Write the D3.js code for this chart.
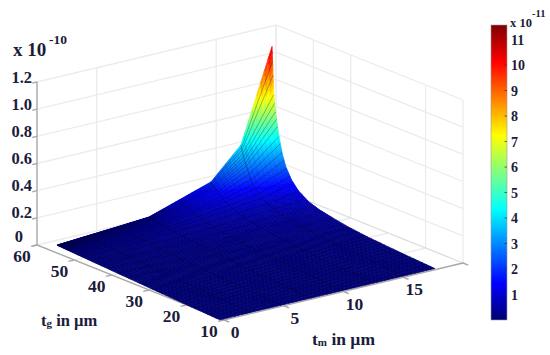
<!DOCTYPE html>
<html>
<head>
<meta charset="utf-8">
<script src="https://cdn.jsdelivr.net/npm/d3@7"></script>
<style>
html, body { margin: 0; padding: 0; background: #fff; }
text { font-family: "Liberation Serif", serif; font-weight: bold; fill: #1b1b3a; }
</style>
</head>
<body>
<svg id="chart" width="550" height="355"></svg>
<script>
// axis ticks
var tmTicks = [0, 5, 10, 15];
var tgTicks = [10, 20, 30, 40, 50, 60];
var zTicks = [0, 0.2, 0.4, 0.6, 0.8, 1.0, 1.2];
var zTickLabels = ["0", "0.2", "0.4", "0.6", "0.8", "1.0", "1.2"];
var colorTicks = [1, 2, 3, 4, 5, 6, 7, 8, 9, 10, 11];

// surface mesh, z in units of 1e-10
var tmGrid = [0, 2.57, 5.14, 7.7, 10.3, 12.9, 15.4, 18];
var tgGrid = [57.7, 57.2, 56.7, 55.7, 54.7, 53.7, 52, 50, 47, 44, 40, 36, 30, 20, 10.5];
var zGrid = [
  [.005, .020, .034, .050, .125, .200, .420, 1.09],
  [.005, .018, .032, .048, .110, .180, .360, .740],
  [.005, .017, .030, .046, .100, .170, .320, .620],
  [.004, .016, .028, .043, .090, .150, .260, .450],
  [.004, .015, .026, .040, .078, .125, .190, .330],
  [.004, .014, .024, .037, .068, .105, .150, .250],
  [.003, .012, .021, .032, .055, .082, .108, .170],
  [.003, .011, .018, .028, .042, .060, .076, .115],
  [.002, .008, .014, .020, .030, .042, .050, .068],
  [.002, .006, .010, .015, .022, .030, .036, .046],
  [.001, .004, .007, .010, .014, .019, .023, .030],
  [.001, .002, .004, .006, .009, .012, .014, .017],
  [0, .001, .002, .003, .004, .005, .006, .007],
  [0, 0, .001, .001, .001, .002, .002, .002],
  [0, 0, 0, 0, 0, 0, 0, 0]
];
// tg levels where the dense mesh lines are drawn
var tgMesh = [13, 16, 19, 22, 25, 28, 31, 34, 37, 40, 43, 45.5, 48, 50, 51.5, 52.5, 53.5, 54.2, 54.8, 55.3, 55.7, 56.1, 56.4, 56.7, 56.95, 57.2, 57.4, 57.55];

// grid lines that show on the back walls
var wallTm = [5, 15, 20];
var wallTg = [10, 20, 40, 50, 60];
var floorTg = [20, 30, 40, 50];

var jetColors = ["#000070", "#0000ff", "#00ffff", "#ffff00", "#ff0000", "#7f0000"];
var jetStops = [0, 0.125, 0.375, 0.625, 0.875, 1];
var colorMax = 11.57;

var svg = d3.select("#chart");

// projection of the 3d box, one scale per direction
var front = {x: 224, y: 320};
var tmX = d3.scaleLinear().domain([0, 20]).range([0, 239]);
var tmY = d3.scaleLinear().domain([0, 20]).range([0, -57]);
var tgX = d3.scaleLinear().domain([10, 60]).range([0, -187]);
var tgY = d3.scaleLinear().domain([10, 60]).range([0, -75]);
var zY = d3.scaleLinear().domain([0, 1.2]).range([0, -163]);
// the surface sits slightly sheared against the box
var shear = d3.scaleLinear().domain([10.5, 57.7]).range([-0.2, 0.95]);

function project(tm, tg, z) {
  return [front.x + tmX(tm) + tgX(tg), front.y + tmY(tm) + tgY(tg) + zY(z)];
}
function surf(tm, tg, z) {
  return project(tm + shear(tg), tg, z);
}

var jet = d3.scaleLinear()
  .domain(jetStops.map(function(d) { return d * colorMax; }))
  .range(jetColors);

var line = d3.line();

// walls and floor
var walls = svg.append("g").attr("fill", "none").attr("stroke", "#ececec").attr("stroke-width", 1.3);
zTicks.forEach(function(z) {
  if (z > 0) {
    walls.append("path").attr("d", line([project(0, 60, z), project(20, 60, z), project(20, 10, z)]));
  }
});
wallTm.forEach(function(tm) {
  walls.append("path").attr("d", line([project(tm, 60, 0), project(tm, 60, 1.2)]));
});
wallTg.forEach(function(tg) {
  walls.append("path").attr("d", line([project(20, tg, 0), project(20, tg, 1.2)]));
});
floorTg.forEach(function(tg) {
  walls.append("path").attr("d", line([project(0, tg, 0), project(20, tg, 0)]));
});
walls.append("path").attr("d", line([project(0, 60, 0), project(20, 60, 0)]));
walls.append("path").attr("stroke", "#dcdcdc").attr("d", line([project(20, 60, 0), project(20, 10, 0)]));

// axis lines
var axes = svg.append("g").attr("fill", "none").attr("stroke", "#a8a8a8").attr("stroke-width", 1.4);
axes.append("path").attr("d", line([project(0, 60, 1.2), project(0, 60, 0), project(0, 10, 0), project(20, 10, 0)]));
tmTicks.concat([20]).forEach(function(tm) {
  var a = project(tm, 10, 0), b = project(tm, 8.6, 0);
  axes.append("path").attr("d", line([a, b]));
});
tgTicks.forEach(function(tg) {
  var a = project(0, tg, 0), b = project(-0.5, tg, 0);
  axes.append("path").attr("d", line([a, b]));
});
zTicks.forEach(function(z) {
  var a = project(0, 60, z), b = project(-0.4, 60, z);
  axes.append("path").attr("d", line([a, b]));
});

// surface, far cells first
var defs = svg.append("defs");
defs.append("filter").attr("id", "soft")
  .append("feGaussianBlur").attr("stdDeviation", 0.4);

var steps = 8;
var quads = [];
for (var r = 0; r < tgGrid.length - 1; r++) {
  for (var c = tmGrid.length - 2; c >= 0; c--) {
    for (var u = 0; u < steps; u++) {
      for (var w = steps - 1; w >= 0; w--) {
        quads.push(cell(r, c, u / steps, (u + 1) / steps, w / steps, (w + 1) / steps));
      }
    }
  }
}

function lerp(a, b, t) { return a + (b - a) * t; }

function zAt(r, c, u, w) {
  return lerp(lerp(zGrid[r][c], zGrid[r][c + 1], w), lerp(zGrid[r + 1][c], zGrid[r + 1][c + 1], w), u);
}

function cell(r, c, u0, u1, w0, w1) {
  var corners = [[u0, w0], [u0, w1], [u1, w1], [u1, w0]].map(function(p) {
    var tg = lerp(tgGrid[r], tgGrid[r + 1], p[0]);
    var tm = lerp(tmGrid[c], tmGrid[c + 1], p[1]);
    var z = zAt(r, c, p[0], p[1]);
    return {pt: surf(tm, tg, z), z: z};
  });
  return {pts: corners.map(function(d) { return d.pt; }), z: d3.mean(corners, function(d) { return d.z; })};
}

var surface = svg.append("g").attr("filter", "url(#soft)");
surface.selectAll("path.cell")
  .data(quads)
  .join("path")
  .attr("class", "cell")
  .attr("d", function(d) { return line(d.pts) + "Z"; })
  .attr("fill", function(d) { return jet(d.z * 10); })
  .attr("stroke", function(d) { return jet(d.z * 10); })
  .attr("stroke-width", 0.7);

// mesh lines, the dense ones fade out in the dark part
function rowIndex(tg) {
  for (var i = 0; i < tgGrid.length - 1; i++) {
    if (tg <= tgGrid[i] && tg >= tgGrid[i + 1]) return i;
  }
  return tgGrid.length - 2;
}
var meshFade = d3.scaleLinear().domain([35, 52]).range([0.1, 0.34]).clamp(true);
var mesh = surface.append("g").attr("fill", "none").attr("stroke", "#000").attr("stroke-width", 0.8);
tgMesh.forEach(function(tg) {
  var r = rowIndex(tg);
  var u = (tg - tgGrid[r]) / (tgGrid[r + 1] - tgGrid[r]);
  var pts = tmGrid.map(function(tm, c) {
    return surf(tm, tg, lerp(zGrid[r][c], zGrid[r + 1][c], u));
  });
  mesh.append("path").attr("d", line(pts)).attr("stroke-opacity", meshFade(tg));
});
tmGrid.slice(1, -1).forEach(function(tm, i) {
  var pts = tgGrid.map(function(tg, r) { return surf(tm, tg, zGrid[r][i + 1]); });
  mesh.append("path").attr("d", line(pts)).attr("stroke-opacity", 0.3);
});

// tick labels
function label(x, y, txt, size, anchor) {
  return svg.append("text").attr("x", x).attr("y", y)
    .attr("font-size", size).attr("text-anchor", anchor || "middle").text(txt);
}
zTicks.forEach(function(z, i) {
  var p = project(0, 60, z);
  label(z === 0 ? p[0] - 14 : p[0] - 5, p[1] - (z === 0 ? 3.5 : -0.5), zTickLabels[i], 16.5, "end");
});
tgTicks.forEach(function(tg) {
  var p = project(0, tg, 0);
  label(p[0] - 15, p[1] + 16.5, tg, 17.5);
});
tmTicks.forEach(function(tm) {
  var p = project(tm, 10, 0);
  label(p[0] + 11, p[1] + 18, tm, 17.5);
});

// axis titles
label(13, 56, "x 10", 19, "start");
label(49, 44, "-10", 13.5, "start");
var tgTitle = label(41, 326, "t", 16.5, "start");
tgTitle.append("tspan").attr("font-size", 11).attr("dy", 1).text("g");
tgTitle.append("tspan").attr("dy", -1).text(" in \u00b5m");
var tmTitle = label(312, 345, "t", 17.5, "start");
tmTitle.append("tspan").attr("font-size", 11).attr("dy", 1).text("m");
tmTitle.append("tspan").attr("dy", -1).text(" in \u00b5m");

// colorbar
var barX = 491, barW = 16;
var barY = d3.scaleLinear().domain([0, colorMax]).range([320, 25]);
var grad = defs.append("linearGradient").attr("id", "jetbar")
  .attr("x1", 0).attr("x2", 0).attr("y1", 1).attr("y2", 0);
grad.selectAll("stop").data(jetStops).join("stop")
  .attr("offset", function(d) { return d; })
  .attr("stop-color", function(d, i) { return jetColors[i]; });
svg.append("rect").attr("x", barX).attr("y", barY(colorMax)).attr("width", barW)
  .attr("height", barY(0) - barY(colorMax)).attr("fill", "url(#jetbar)")
  .attr("stroke", "#9a9a9a").attr("stroke-width", 0.6);
colorTicks.forEach(function(v) {
  svg.append("path").attr("d", line([[barX + barW - 2.5, barY(v)], [barX + barW, barY(v)]]))
    .attr("stroke", "#333").attr("stroke-width", 0.7);
  label(barX + barW + 4, barY(v) + 5, v, 14, "start");
});
label(510, 27, "x 10", 12.5, "start");
label(532, 17, "-11", 10.5, "start");
</script>
</body>
</html>
